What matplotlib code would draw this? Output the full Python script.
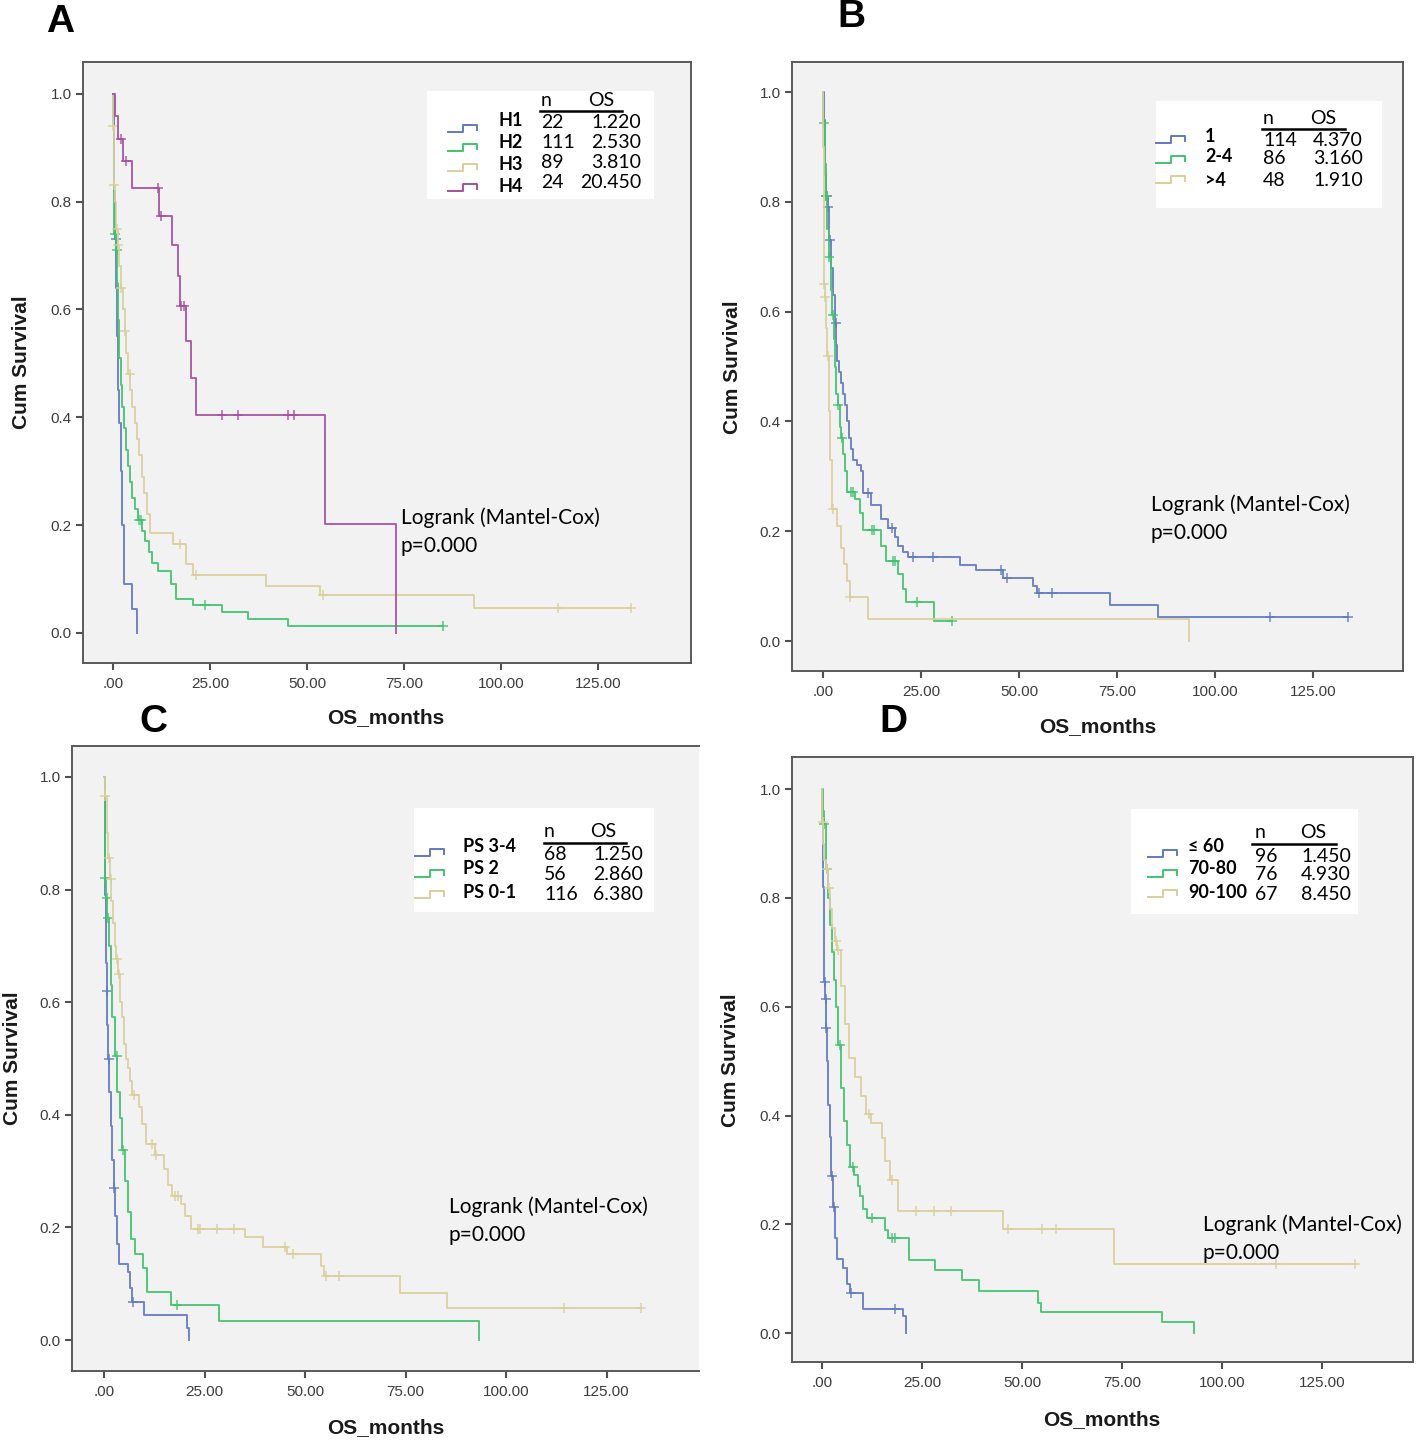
import numpy as np
import matplotlib.pyplot as plt
from matplotlib.lines import Line2D
from matplotlib.patches import Rectangle

plt.rcParams['font.family'] = ['Liberation Sans', 'DejaVu Sans']

W, H = 1418, 1446

# colours of the SPSS groups
c_blue = '#6079c4'
c_green = '#3fc46e'
c_tan = '#d9cf9c'
c_purple = '#a8509e'

# ---------------- panel A (H1..H4)
a_labels = ['H1', 'H2', 'H3', 'H4']
a_n = [22, 111, 89, 24]
a_os = [1.220, 2.530, 3.810, 20.450]

a_h1_t = [0, 0.2, 0.4, 0.6, 0.8, 1.0, 1.3, 1.6, 2.0, 2.4, 2.8, 4.9, 6.2]
a_h1_s = [1.0, 0.91, 0.82, 0.73, 0.64, 0.55, 0.45, 0.39, 0.30, 0.20, 0.09, 0.045, 0.0]
a_h1_c = [0.7]
a_h1_end = 6.2

a_h2_t = [0, 0.1, 0.2, 0.3, 0.4, 0.8, 1.1, 1.4, 1.7, 2.0, 2.4, 2.8, 3.3, 3.8, 4.4,
          5.0, 5.7, 6.4, 7.6, 8.3, 9.3, 10.2, 11.6, 14.9, 16.2, 20.7, 28.0, 34.9, 45.0]
a_h2_s = [1.0, 0.94, 0.87, 0.80, 0.74, 0.71, 0.65, 0.58, 0.51, 0.46, 0.42, 0.38, 0.34, 0.31, 0.28,
          0.25, 0.23, 0.21, 0.19, 0.17, 0.15, 0.13, 0.115, 0.09, 0.063, 0.052, 0.039, 0.025, 0.012]
a_h2_c = [0.6, 1.0, 6.8, 7.2, 23.8, 85.0]
a_h2_end = 85.0

a_h3_t = [0, 0.05, 0.3, 0.5, 0.8, 1.2, 1.6, 2.0, 2.5, 3.0, 3.5, 4.0, 4.5, 5.0, 5.6, 6.2,
          6.8, 7.4, 8.0, 8.8, 9.6, 15.5, 18.8, 20.6, 39.5, 53.4, 93.0]
a_h3_s = [1.0, 0.94, 0.83, 0.80, 0.75, 0.72, 0.68, 0.64, 0.60, 0.56, 0.52, 0.48, 0.45, 0.42, 0.39, 0.36,
          0.33, 0.29, 0.26, 0.22, 0.185, 0.165, 0.128, 0.107, 0.088, 0.07, 0.047]
a_h3_c = [0.1, 0.4, 1.0, 1.4, 2.0, 3.0, 4.4, 17.3, 21.4, 54.0, 114.7, 133.5]
a_h3_end = 133.5

a_h4_t = [0, 0.5, 1.3, 2.5, 4.8, 11.9, 15.2, 16.7, 17.2, 18.9, 20.2, 21.5, 54.7, 72.9]
a_h4_s = [1.0, 0.958, 0.917, 0.875, 0.825, 0.773, 0.719, 0.663, 0.606, 0.541, 0.472, 0.405, 0.203, 0.0]
a_h4_c = [2.0, 3.3, 11.6, 12.4, 17.5, 18.2, 28.0, 32.2, 45.0, 46.6]
a_h4_end = 72.9

# ---------------- panel B (1, 2-4, >4)
b_labels = ['1', '2-4', '>4']
b_n = [114, 86, 48]
b_os = [4.370, 3.160, 1.910]

b_g1_t = [0, 0.2, 0.4, 0.6, 0.9, 1.2, 1.5, 2.0, 2.5, 3.0, 3.4, 3.7, 4.2, 4.6, 5.1, 5.6, 6.1, 6.6, 7.1,
          7.6, 8.8, 9.6, 10.1, 12.2, 14.9, 16.5, 18.5, 19.2, 20.3, 21.8, 34.9, 39.0, 46.0, 53.7,
          54.7, 73.2, 85.6]
b_g1_s = [1.0, 0.95, 0.90, 0.85, 0.81, 0.79, 0.73, 0.68, 0.63, 0.58, 0.54, 0.51, 0.49, 0.47, 0.45,
          0.43, 0.40, 0.37, 0.35, 0.33, 0.32, 0.31, 0.27, 0.247, 0.223, 0.206, 0.19, 0.174, 0.163,
          0.153, 0.139, 0.129, 0.115, 0.10, 0.087, 0.066, 0.043]
b_g1_c = [1.0, 1.3, 1.8, 3.2, 11.6, 17.7, 23.0, 28.0, 45.5, 47.0, 55.2, 58.5, 114.0, 134.0]
b_g1_end = 134.0

b_g2_t = [0, 0.1, 0.4, 0.7, 1.0, 1.5, 2.0, 2.4, 2.7, 3.0, 3.3, 3.8, 4.3, 4.7, 5.1, 5.6, 6.1,
          8.1, 9.4, 10.1, 14.7, 16.2, 19.2, 20.3, 21.3, 28.4]
b_g2_s = [1.0, 0.944, 0.87, 0.81, 0.75, 0.70, 0.64, 0.594, 0.55, 0.50, 0.45, 0.43, 0.39, 0.37,
          0.34, 0.31, 0.272, 0.258, 0.233, 0.202, 0.174, 0.146, 0.122, 0.094, 0.071, 0.036]
b_g2_c = [0.2, 0.7, 0.9, 1.6, 2.5, 3.9, 4.8, 7.1, 7.6, 12.6, 13.1, 17.9, 18.4, 24.1, 32.9]
b_g2_end = 32.9

b_g3_t = [0, 0.1, 0.2, 0.3, 0.4, 0.7, 1.0, 1.5, 1.9, 2.2, 3.7, 4.6, 5.4, 6.1, 6.8, 11.6, 93.5]
b_g3_s = [1.0, 0.90, 0.78, 0.65, 0.626, 0.57, 0.52, 0.42, 0.33, 0.24, 0.21, 0.17, 0.14, 0.11,
          0.08, 0.04, 0.0]
b_g3_c = [0.35, 0.5, 1.2, 2.5, 6.9]
b_g3_end = 93.5

# ---------------- panel C (PS)
c_labels = ['PS 3-4', 'PS 2', 'PS 0-1']
c_n = [68, 56, 116]
c_os = [1.250, 2.860, 6.380]

c_g1_t = [0, 0.1, 0.2, 0.3, 0.4, 0.5, 0.6, 0.8, 1.0, 1.3, 1.6, 2.0, 2.4, 2.8, 3.2, 3.7, 6.0,
          6.5, 7.0, 9.8, 20.5, 21.2]
c_g1_s = [1.0, 0.93, 0.86, 0.79, 0.73, 0.67, 0.62, 0.56, 0.50, 0.44, 0.38, 0.32, 0.27, 0.22,
          0.17, 0.135, 0.121, 0.093, 0.068, 0.044, 0.021, 0.0]
c_g1_c = [0.7, 1.1, 2.5, 7.3]
c_g1_end = 21.2

c_g2_t = [0, 0.1, 0.2, 0.5, 0.8, 1.2, 1.6, 2.0, 2.7, 3.3, 4.0, 4.5, 5.3, 6.0, 6.7, 7.7, 9.7,
          10.7, 16.7, 28.5, 93.3]
c_g2_s = [1.0, 0.91, 0.82, 0.785, 0.75, 0.70, 0.63, 0.573, 0.504, 0.44, 0.394, 0.338, 0.283,
          0.228, 0.18, 0.152, 0.128, 0.086, 0.062, 0.033, 0.0]
c_g2_c = [0.3, 0.6, 1.0, 3.2, 4.8, 18.2]
c_g2_end = 93.3

c_g3_t = [0, 0.2, 0.6, 1.0, 1.4, 1.8, 2.2, 2.6, 3.0, 3.5, 4.0, 4.5, 5.0, 5.5, 6.0, 6.5, 7.0,
          8.7, 9.5, 10.5, 12.7, 15.0, 16.0, 17.0, 19.0, 20.0, 21.5, 35.0, 39.5, 45.5, 54.0,
          54.7, 73.5, 85.3]
c_g3_s = [1.0, 0.967, 0.90, 0.856, 0.818, 0.78, 0.74, 0.70, 0.677, 0.65, 0.60, 0.573, 0.525,
          0.50, 0.483, 0.46, 0.435, 0.414, 0.383, 0.349, 0.328, 0.304, 0.276, 0.256, 0.242,
          0.221, 0.197, 0.183, 0.166, 0.152, 0.131, 0.114, 0.083, 0.057]
c_g3_c = [0.3, 1.2, 1.6, 3.3, 3.7, 7.5, 11.8, 12.9, 17.7, 18.3, 23.3, 23.8, 28.0, 32.3, 45.0,
          47.0, 55.2, 58.5, 114.3, 133.5]
c_g3_end = 133.5

# ---------------- panel D (KPS)
d_labels = ['\u2264 60', '70-80', '90-100']
d_n = [96, 76, 67]
d_os = [1.450, 4.930, 8.450]

d_g1_t = [0, 0.1, 0.2, 0.3, 0.4, 0.5, 0.6, 0.8, 1.0, 1.3, 1.6, 1.9, 2.3, 2.8, 3.3, 3.8, 5.3,
          6.3, 7.0, 10.3, 20.2, 20.9]
d_g1_s = [1.0, 0.94, 0.88, 0.82, 0.76, 0.70, 0.646, 0.614, 0.56, 0.50, 0.42, 0.36, 0.288,
          0.232, 0.175, 0.137, 0.119, 0.091, 0.074, 0.044, 0.032, 0.0]
d_g1_c = [0.7, 0.9, 1.1, 2.5, 3.1, 7.3, 18.3]
d_g1_end = 20.9

d_g2_t = [0, 0.2, 0.5, 1.0, 1.5, 2.0, 2.6, 3.0, 3.5, 4.0, 4.8, 5.5, 6.3, 7.0, 8.0, 9.0, 9.6,
          10.3, 11.3, 15.8, 16.6, 21.7, 28.2, 34.9, 39.2, 54.1, 54.8, 85.0, 93.0]
d_g2_s = [1.0, 0.96, 0.935, 0.854, 0.80, 0.75, 0.70, 0.65, 0.60, 0.53, 0.45, 0.39, 0.345,
          0.305, 0.29, 0.27, 0.253, 0.228, 0.211, 0.189, 0.174, 0.135, 0.116, 0.098, 0.077,
          0.056, 0.039, 0.021, 0.0]
d_g2_c = [0.6, 1.3, 4.5, 7.7, 12.6, 17.5, 18.2]
d_g2_end = 93.0

d_g3_t = [0, 0.1, 0.3, 0.6, 1.0, 1.5, 2.0, 2.6, 3.2, 3.8, 4.8, 5.8, 6.8, 8.3, 9.8, 11.0, 12.3,
          15.0, 15.8, 16.9, 18.9, 45.2, 73.1]
d_g3_s = [1.0, 0.94, 0.90, 0.87, 0.854, 0.818, 0.78, 0.744, 0.72, 0.705, 0.639, 0.568, 0.505,
          0.47, 0.435, 0.403, 0.386, 0.358, 0.316, 0.281, 0.225, 0.192, 0.128]
d_g3_c = [0.15, 1.3, 1.8, 3.5, 4.0, 11.8, 17.6, 23.6, 28.0, 32.2, 46.5, 55.1, 58.4, 113.6, 133.2]
d_g3_end = 133.2

x_ticks = [0, 25, 50, 75, 100, 125]
x_ticklabels = ['.00', '25.00', '50.00', '75.00', '100.00', '125.00']
y_ticks = [0.0, 0.2, 0.4, 0.6, 0.8, 1.0]
y_ticklabels = ['0.0', '0.2', '0.4', '0.6', '0.8', '1.0']


def fx(x):
    return x / W


def fy(y):
    return 1 - y / H


def km(ax, t, s, cens, end, col):
    t = np.asarray(t, float)
    s = np.asarray(s, float)
    ax.step(np.r_[t, end], np.r_[s, s[-1]], where='post', color=col, lw=1.4, alpha=0.9)
    ct = np.asarray(cens, float)
    idx = np.searchsorted(t, ct, side='right') - 1
    ax.plot(ct, s[idx], ls='none', marker='+', ms=7, mew=1.1, color=col, alpha=0.9)


def make_axes(fig, frame, xlim, ylim):
    l, t, r, b = frame
    ax = fig.add_axes([fx(l), fy(b), (r - l) / W, (b - t) / H])
    ax.set_facecolor('#f2f2f2')
    ax.set_xlim(*xlim)
    ax.set_ylim(*ylim)
    ax.set_xticks(x_ticks)
    ax.set_xticklabels(x_ticklabels)
    ax.set_yticks(y_ticks)
    ax.set_yticklabels(y_ticklabels)
    ax.tick_params(direction='out', length=5, width=1.5, color='#505050',
                   labelcolor='#3c3c3c', labelsize=11)
    ax.tick_params(axis='x', pad=5)
    ax.tick_params(axis='y', pad=3)
    for sp in ax.spines.values():
        sp.set_color('#5a5a5a')
        sp.set_linewidth(1.4)
    return ax


def legend(fig, box, cols, labels, ns, oss, lay):
    x0, y0, x1, y1 = box
    fig.patches.append(Rectangle((fx(x0), fy(y1)), (x1 - x0) / W, (y1 - y0) / H,
                                 transform=fig.transFigure, facecolor='white',
                                 edgecolor='none', zorder=5))
    fam = ['Lato', 'DejaVu Sans']
    fig.text(fx(lay['nx']), fy(lay['hy']), 'n', fontsize=14, family=fam,
             va='center', ha='left', zorder=6)
    fig.text(fx(lay['osx']), fy(lay['hy']), 'OS', fontsize=14, family=fam,
             va='center', ha='left', zorder=6)
    fig.lines.append(Line2D([fx(lay['ul'][0]), fx(lay['ul'][1])], [fy(lay['uy'])] * 2,
                            transform=fig.transFigure, color='black', lw=1.8, zorder=6))
    for i in range(len(labels)):
        sy = lay['sy'][i]
        sx = lay['sx']
        xs = [sx, sx + 15, sx + 15, sx + 29, sx + 29]
        ys = [sy + 4, sy + 4, sy - 3, sy - 3, sy + 2]
        fig.lines.append(Line2D([fx(v) for v in xs], [fy(v) for v in ys],
                                transform=fig.transFigure, color=cols[i], lw=1.4, zorder=6))
        fig.text(fx(lay['lx']), fy(lay['ly'][i]), labels[i], fontsize=13, weight='bold',
                 family=fam, va='center', ha='left', zorder=6)
        fig.text(fx(lay['nx']), fy(lay['ry'][i]), str(ns[i]), fontsize=14, family=fam,
                 va='center', ha='left', zorder=6)
        fig.text(fx(lay['or']), fy(lay['ry'][i]), '%.3f' % oss[i], fontsize=14, family=fam,
                 va='center', ha='right', zorder=6)


fig = plt.figure(figsize=(W / 100, H / 100), dpi=100)
fig.patch.set_facecolor('white')

# A
axA = make_axes(fig, (83, 62, 691, 663), (-7.7, 148.9), (-0.0557, 1.059))
km(axA, a_h1_t, a_h1_s, a_h1_c, a_h1_end, c_blue)
km(axA, a_h2_t, a_h2_s, a_h2_c, a_h2_end, c_green)
km(axA, a_h3_t, a_h3_s, a_h3_c, a_h3_end, c_tan)
km(axA, a_h4_t, a_h4_s, a_h4_c, a_h4_end, c_purple)
legend(fig, (427, 91, 654, 199), [c_blue, c_green, c_tan, c_purple], a_labels, a_n, a_os,
       dict(hy=100, nx=541, osx=588, ul=(540, 622), uy=111, sx=448,
            sy=[128, 147, 167, 187], lx=498, ly=[121, 143, 164, 187],
            ry=[122, 142, 163, 182], **{'or': 641}))

# B
axB = make_axes(fig, (792, 62, 1403, 671), (-7.9, 148.0), (-0.0546, 1.055))
km(axB, b_g1_t, b_g1_s, b_g1_c, b_g1_end, c_blue)
km(axB, b_g2_t, b_g2_s, b_g2_c, b_g2_end, c_green)
km(axB, b_g3_t, b_g3_s, b_g3_c, b_g3_end, c_tan)
legend(fig, (1156, 101, 1382, 208), [c_blue, c_green, c_tan], b_labels, b_n, b_os,
       dict(hy=118, nx=1263, osx=1310, ul=(1262, 1345), uy=129, sx=1156,
            sy=[139, 159, 179], lx=1205, ly=[136, 157, 180],
            ry=[140, 159, 180], **{'or': 1363}))

# C (right border cropped off in the original)
axC = make_axes(fig, (72, 746, 699, 1371), (-8.0, 148.0), (-0.055, 1.055))
axC.spines['right'].set_visible(False)
km(axC, c_g1_t, c_g1_s, c_g1_c, c_g1_end, c_blue)
km(axC, c_g2_t, c_g2_s, c_g2_c, c_g2_end, c_green)
km(axC, c_g3_t, c_g3_s, c_g3_c, c_g3_end, c_tan)
legend(fig, (414, 808, 654, 912), [c_blue, c_green, c_tan], c_labels, c_n, c_os,
       dict(hy=832, nx=544, osx=590, ul=(544, 626), uy=843, sx=415,
            sy=[852, 873, 894], lx=463, ly=[847, 869, 892],
            ry=[854, 874, 894], **{'or': 643}))

# D
axD = make_axes(fig, (792, 757, 1413, 1362), (-7.5, 147.75), (-0.053, 1.059))
km(axD, d_g1_t, d_g1_s, d_g1_c, d_g1_end, c_blue)
km(axD, d_g2_t, d_g2_s, d_g2_c, d_g2_end, c_green)
km(axD, d_g3_t, d_g3_s, d_g3_c, d_g3_end, c_tan)
legend(fig, (1131, 809, 1358, 914), [c_blue, c_green, c_tan], d_labels, d_n, d_os,
       dict(hy=833, nx=1255, osx=1300, ul=(1252, 1336), uy=844, sx=1148,
            sy=[853, 873, 893], lx=1188, ly=[847, 869, 892],
            ry=[856, 874, 894], **{'or': 1351}))

# logrank notes
lr_font = ['Lato', 'DejaVu Sans']
for (x, y) in [(401, 518), (1151, 505), (449, 1207), (1203, 1225)]:
    fig.text(fx(x), fy(y), 'Logrank (Mantel-Cox)', fontsize=15, family=lr_font,
             va='center', ha='left')
    fig.text(fx(x), fy(y + 28), 'p=0.000', fontsize=15, family=lr_font,
             va='center', ha='left')

# axis titles
for (x, y) in [(22, 362), (733, 367), (12, 1058), (731, 1060)]:
    fig.text(fx(x), fy(y), 'Cum Survival', fontsize=15, weight='bold', rotation=90,
             va='center', ha='center', color='#1a1a1a')
for (x, y) in [(386, 718), (1098, 727), (386, 1428), (1102, 1420)]:
    fig.text(fx(x), fy(y), 'OS_months', fontsize=15, weight='bold',
             va='center', ha='center', color='#1a1a1a')

# panel letters
for (x, y, lab) in [(60, 22, 'A'), (851, 17, 'B'), (153, 722, 'C'), (893, 722, 'D')]:
    fig.text(fx(x), fy(y), lab, fontsize=28, weight='bold', va='center', ha='center')

fig.savefig('out.png', dpi=100, facecolor='white')
